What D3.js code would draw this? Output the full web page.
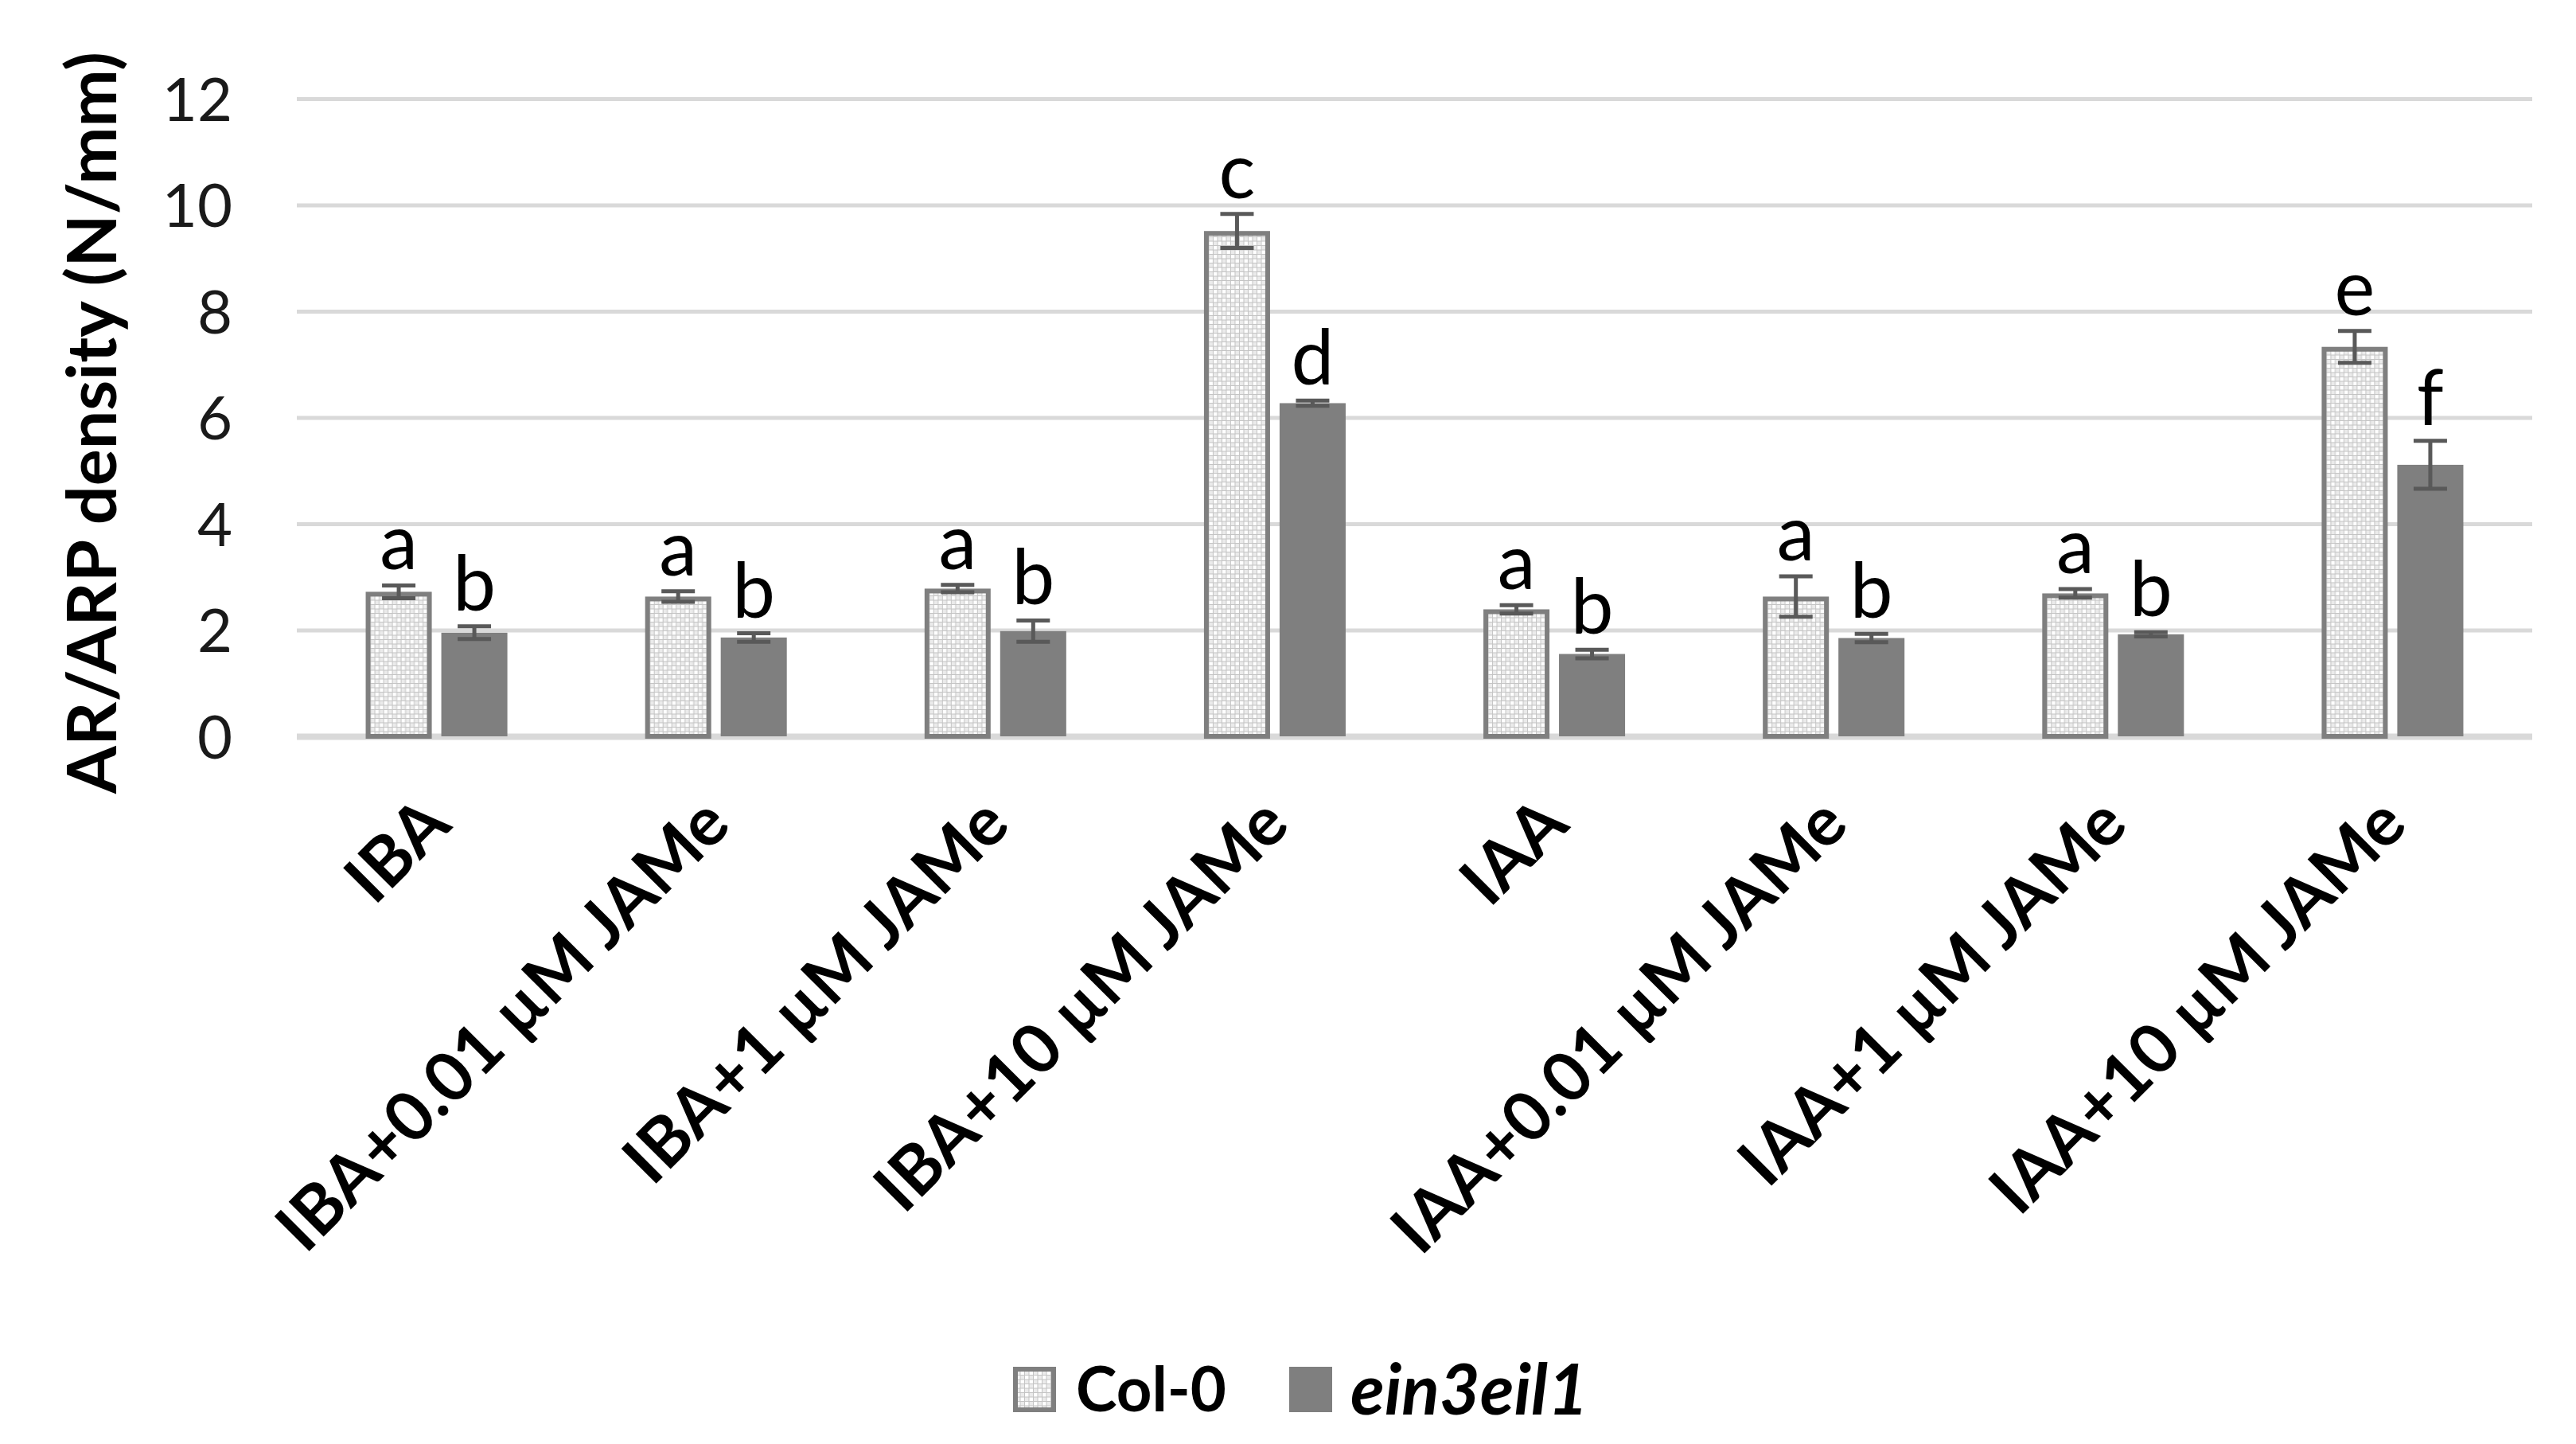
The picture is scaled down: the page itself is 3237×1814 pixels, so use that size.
<!DOCTYPE html>
<html>
<head>
<meta charset="utf-8">
<script src="https://cdn.jsdelivr.net/npm/d3@7"></script>
<style>
  html, body { margin: 0; padding: 0; background: #ffffff; }
  svg { display: block; }
</style>
</head>
<body>
<script>
// ---------------- data ----------------
const categories = ["IBA", "IBA+0.01 µM JAMe", "IBA+1 µM JAMe", "IBA+10 µM JAMe",
                    "IAA", "IAA+0.01 µM JAMe", "IAA+1 µM JAMe", "IAA+10 µM JAMe"];
const seriesNames = ["Col-0", "ein3eil1"];
const col0Values = [2.72, 2.63, 2.78, 9.51, 2.39, 2.63, 2.69, 7.33];
const col0Errors = [0.12, 0.10, 0.07, 0.32, 0.08, 0.38, 0.08, 0.30];
const ein3Values = [1.95, 1.86, 1.98, 6.27, 1.55, 1.85, 1.92, 5.11];
const ein3Errors = [0.12, 0.08, 0.20, 0.05, 0.08, 0.08, 0.04, 0.45];
const col0Letters = ["a", "a", "a", "c", "a", "a", "a", "e"];
const ein3Letters = ["b", "b", "b", "d", "b", "b", "b", "f"];
const yTicks = [0, 2, 4, 6, 8, 10, 12];
const yTitle = "AR/ARP density (N/mm)";

// ---------------- layout ----------------
const W = 3237, H = 1814;
const plotL = 373, plotR = 3182, plotT = 124, plotB = 925;
const FONT = "Lato, 'Open Sans', sans-serif";

const rows = categories.map((c, i) => ({
  cat: c,
  vals: [
    { s: seriesNames[0], v: col0Values[i], e: col0Errors[i], l: col0Letters[i] },
    { s: seriesNames[1], v: ein3Values[i], e: ein3Errors[i], l: ein3Letters[i] }
  ]
}));

const svg = d3.select("body").append("svg")
  .attr("width", W).attr("height", H)
  .attr("viewBox", `0 0 ${W} ${H}`);
svg.append("rect").attr("width", W).attr("height", H).attr("fill", "#ffffff");

// pattern for Col-0
const defs = svg.append("defs");
const pat = defs.append("pattern").attr("id", "dotgrid")
  .attr("width", 11).attr("height", 11).attr("patternUnits", "userSpaceOnUse");
pat.append("rect").attr("width", 11).attr("height", 11).attr("fill", "#c4c4c4");
pat.append("rect").attr("x", 1).attr("y", 1).attr("width", 4.5).attr("height", 4.5).attr("fill", "#ffffff");
pat.append("rect").attr("x", 6.5).attr("y", 6.5).attr("width", 4.5).attr("height", 4.5).attr("fill", "#ffffff");
pat.append("rect").attr("x", 6.5).attr("y", 1).attr("width", 4.5).attr("height", 4.5).attr("fill", "#ebebeb");
pat.append("rect").attr("x", 1).attr("y", 6.5).attr("width", 4.5).attr("height", 4.5).attr("fill", "#ebebeb");

// scales
const y = d3.scaleLinear().domain([0, 12]).range([plotB, plotT]);
const x0 = d3.scaleBand().domain(categories).range([plotL, plotR])
  .paddingInner(0.493).paddingOuter(0.2465);
const x1 = d3.scaleBand().domain(seriesNames).range([0, x0.bandwidth()])
  .paddingInner(0.126).paddingOuter(0);
const fills = { "Col-0": "url(#dotgrid)", "ein3eil1": "#7f7f7f" };

// gridlines + y tick labels
const yAxis = svg.append("g")
  .attr("transform", `translate(${plotL},0)`)
  .call(d3.axisLeft(y).tickValues(yTicks).tickSize(-(plotR - plotL)).tickPadding(plotL - 292));
yAxis.select(".domain").remove();
yAxis.selectAll(".tick line").attr("stroke", "#d9d9d9").attr("stroke-width", 5);
yAxis.selectAll(".tick text")
  .attr("font-family", FONT).attr("font-size", 76).attr("fill", "#1a1a1a")
  .attr("dy", "0.36em");
yAxis.selectAll(".tick").filter(d => d === 0).select("line").attr("stroke-width", 8);

// bars
const groups = svg.append("g").selectAll("g").data(rows).join("g")
  .attr("transform", d => `translate(${x0(d.cat)},0)`);

const sw = 6;
groups.selectAll("rect.bar").data(d => d.vals).join("rect")
  .attr("class", "bar")
  .attr("x", d => x1(d.s) + (d.s === "Col-0" ? sw / 2 : 0))
  .attr("width", d => x1.bandwidth() - (d.s === "Col-0" ? sw : 0))
  .attr("y", d => y(d.v) + (d.s === "Col-0" ? sw / 2 : 0))
  .attr("height", d => plotB - y(d.v) - (d.s === "Col-0" ? sw / 2 : 0))
  .attr("fill", d => fills[d.s])
  .attr("stroke", d => d.s === "Col-0" ? "#7f7f7f" : "none")
  .attr("stroke-width", sw);

// error bars
const capW = 42;
const eb = groups.selectAll("g.err").data(d => d.vals).join("g").attr("class", "err")
  .attr("stroke", "#595959").attr("stroke-width", 5);
eb.append("line")
  .attr("x1", d => x1(d.s) + x1.bandwidth() / 2).attr("x2", d => x1(d.s) + x1.bandwidth() / 2)
  .attr("y1", d => y(d.v + d.e)).attr("y2", d => y(d.v - d.e));
eb.append("line")
  .attr("x1", d => x1(d.s) + x1.bandwidth() / 2 - capW / 2).attr("x2", d => x1(d.s) + x1.bandwidth() / 2 + capW / 2)
  .attr("y1", d => y(d.v + d.e)).attr("y2", d => y(d.v + d.e));
eb.append("line")
  .attr("x1", d => x1(d.s) + x1.bandwidth() / 2 - capW / 2).attr("x2", d => x1(d.s) + x1.bandwidth() / 2 + capW / 2)
  .attr("y1", d => y(d.v - d.e)).attr("y2", d => y(d.v - d.e));

// significance letters
groups.selectAll("text.sig").data(d => d.vals).join("text")
  .attr("class", "sig")
  .attr("x", d => x1(d.s) + x1.bandwidth() / 2)
  .attr("y", d => y(d.v + d.e) - 20)
  .attr("text-anchor", "middle")
  .attr("font-family", FONT).attr("font-size", 96).attr("fill", "#000")
  .text(d => d.l);

// x category labels (rotated)
const xl = svg.append("g").selectAll("text").data(categories).join("text")
  .attr("transform", d => `translate(${x0(d) + x0.bandwidth() / 2},${1018}) rotate(-45)`)
  .attr("text-anchor", "end")
  .attr("dy", "0.35em")
  .attr("font-family", FONT).attr("font-weight", "bold").attr("font-size", 100)
  .attr("fill", "#000")
  .text(d => d);
{
  const ref = xl.filter((d, i) => i === 1).node();
  const len = ref.getComputedTextLength();
  xl.attr("font-size", 100 * 760 / len);
}

// y title
const yt = svg.append("text")
  .attr("transform", `translate(116,531) rotate(-90)`)
  .attr("text-anchor", "middle").attr("dy", "0.35em")
  .attr("font-family", FONT).attr("font-weight", "bold").attr("font-size", 100)
  .attr("fill", "#000").text(yTitle);
{
  const len = yt.node().getComputedTextLength();
  yt.attr("font-size", 100 * 932 / len);
}

// legend
const legend = svg.append("g");
const legItems = [
  { s: seriesNames[0], sx: 1273, tx: 1352, italic: false, w: 189 },
  { s: seriesNames[1], sx: 1620, tx: 1697, italic: true, w: 299 }
];
const legY = 1746;
legItems.forEach(it => {
  legend.append("rect")
    .attr("x", it.sx + (it.s === "Col-0" ? 3 : 0)).attr("y", 1717 + (it.s === "Col-0" ? 3 : 0))
    .attr("width", 54 - (it.s === "Col-0" ? 6 : 0)).attr("height", 57 - (it.s === "Col-0" ? 6 : 0))
    .attr("fill", fills[it.s])
    .attr("stroke", it.s === "Col-0" ? "#7f7f7f" : "none").attr("stroke-width", 6);
});
legend.selectAll("text").data(legItems).join("text")
  .attr("x", d => d.tx).attr("y", legY).attr("dy", "0.35em")
  .attr("font-family", FONT).attr("font-weight", "bold")
  .attr("font-style", d => d.italic ? "italic" : "normal")
  .attr("font-size", 100).attr("fill", "#000")
  .text(d => d.s)
  .each(function (d) {
    const len = this.getComputedTextLength();
    d3.select(this).attr("font-size", Math.min(100 * d.w / len, 96));
  });
</script>
</body>
</html>
